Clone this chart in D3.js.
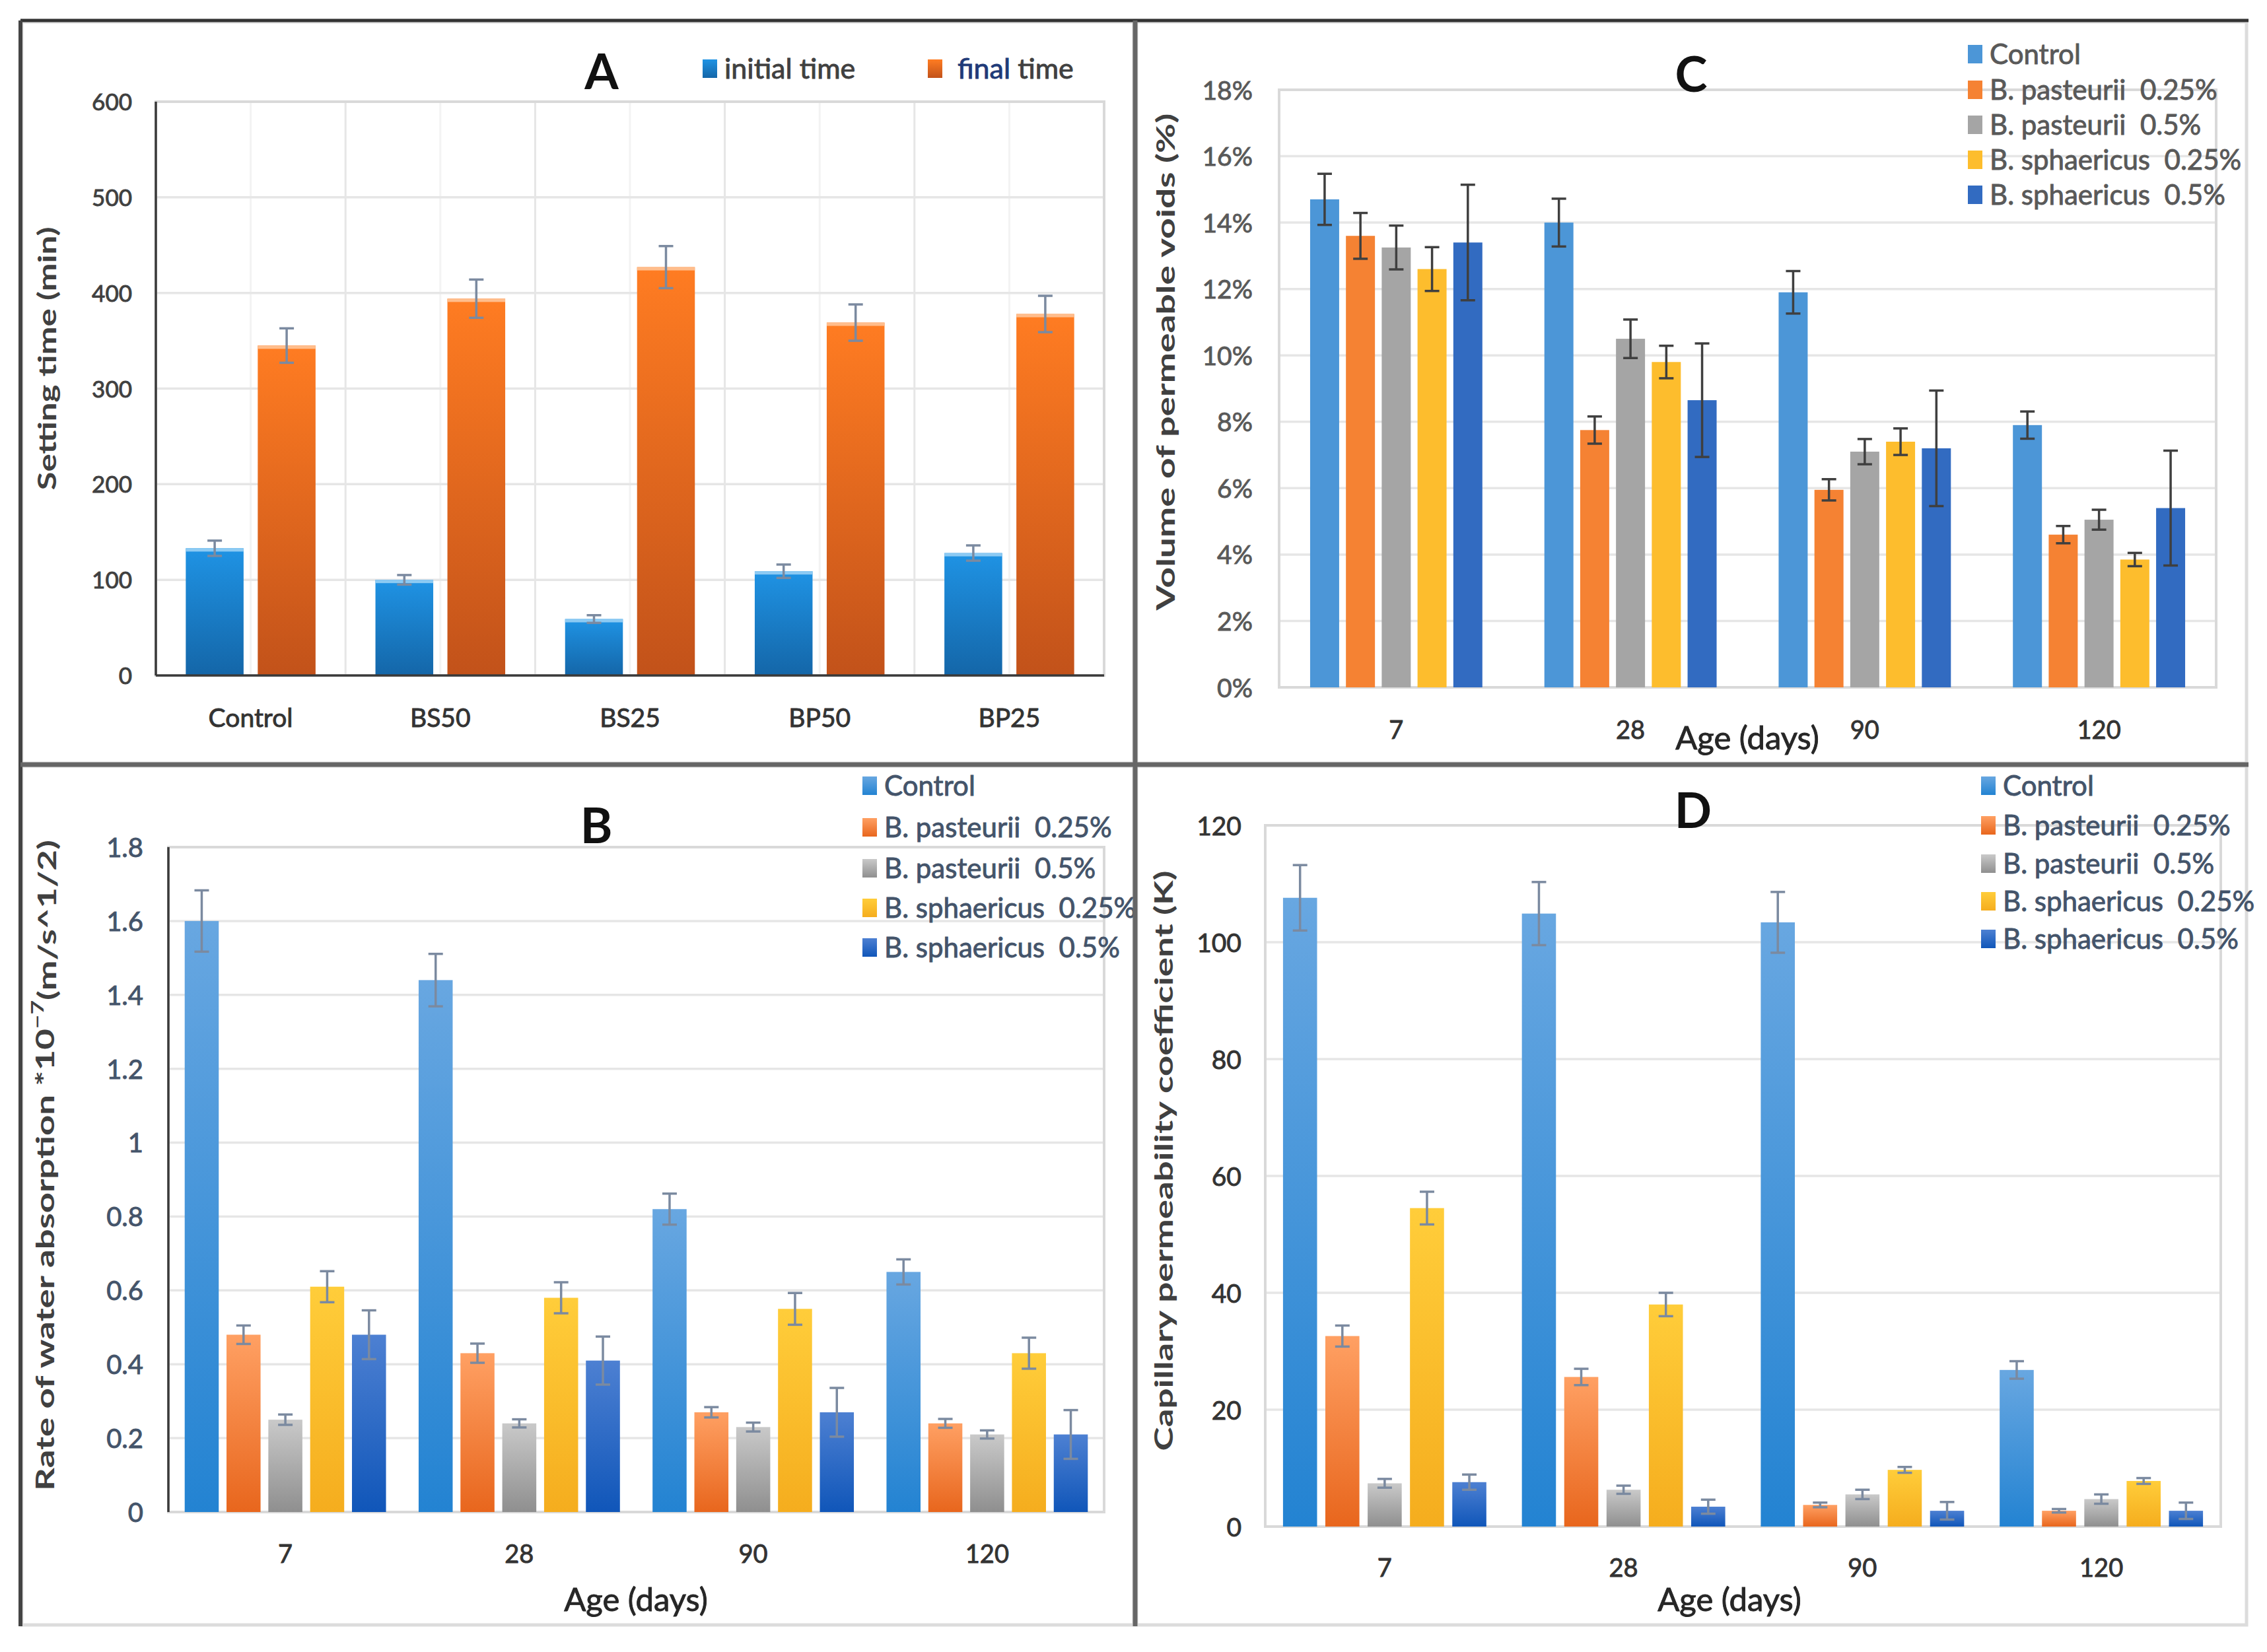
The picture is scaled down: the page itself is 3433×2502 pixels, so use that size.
<!DOCTYPE html>
<html>
<head>
<meta charset="utf-8">
<script src="https://cdn.jsdelivr.net/npm/d3@7"></script>
<style>
body{margin:0;background:#fff}
text{font-family:Lato,"Liberation Sans",sans-serif;white-space:pre}
.heavy{stroke-width:0.9px;paint-order:stroke}
</style>
</head>
<body>
<svg id="fig" width="3433" height="2502"></svg>
<script>
// ---------- data ----------
// A: setting time
var setCats = ["Control","BS50","BS25","BP50","BP25"];
var setSeries = ["initial time","final time"];
var setInitial = [133,100,59,109,128];
var setInitialErr = [8,5,4,7,8];
var setFinal = [345,394,427,369,378];
var setFinalErr = [18,20,22,19,19];
var setTicks = [0,100,200,300,400,500,600];

// B, C, D share ages and mixes
var ages = ["7","28","90","120"];
var mixes = ["Control","B. pasteurii  0.25%","B. pasteurii  0.5%","B. sphaericus  0.25%","B. sphaericus  0.5%"];

// B: rate of water absorption (one row per mix, one value per age)
var rateVals = [
	[1.60,1.44,0.82,0.65],
	[0.48,0.43,0.27,0.24],
	[0.25,0.24,0.23,0.21],
	[0.61,0.58,0.55,0.43],
	[0.48,0.41,0.27,0.21]];
var rateErr = [
	[0.083,0.071,0.042,0.034],
	[0.025,0.026,0.014,0.012],
	[0.014,0.011,0.012,0.011],
	[0.042,0.042,0.043,0.042],
	[0.066,0.065,0.066,0.066]];
var rateTicks = [0,0.2,0.4,0.6,0.8,1,1.2,1.4,1.6,1.8];
var rateTickLabels = ["0","0.2","0.4","0.6","0.8","1","1.2","1.4","1.6","1.8"];

// C: volume of permeable voids (%)
var voidVals = [
	[14.7,14.0,11.9,7.9],
	[13.6,7.75,5.95,4.6],
	[13.25,10.5,7.1,5.05],
	[12.6,9.8,7.4,3.85],
	[13.4,8.65,7.2,5.4]];
var voidErr = [
	[0.77,0.72,0.64,0.41],
	[0.69,0.41,0.32,0.26],
	[0.66,0.58,0.38,0.30],
	[0.66,0.49,0.40,0.20],
	[1.74,1.71,1.74,1.73]];
var voidTicks = [0,2,4,6,8,10,12,14,16,18];

// D: capillary permeability coefficient
var capVals = [
	[107.6,104.9,103.4,26.8],
	[32.6,25.6,3.7,2.7],
	[7.4,6.3,5.5,4.7],
	[54.5,38.0,9.7,7.8],
	[7.6,3.4,2.7,2.7]];
var capErr = [
	[5.6,5.4,5.2,1.5],
	[1.8,1.4,0.4,0.3],
	[0.75,0.7,0.8,0.8],
	[2.8,2.0,0.5,0.5],
	[1.3,1.2,1.5,1.4]];
var capTicks = [0,20,40,60,80,100,120];

// ---------- drawing ----------
var svg = d3.select("#fig");
var defs = svg.append("defs");

function grad(id, top, bottom){
	var lg = defs.append("linearGradient").attr("id",id)
		.attr("x1",0).attr("y1",0).attr("x2",0).attr("y2",1);
	lg.append("stop").attr("offset","0%").attr("stop-color",top);
	lg.append("stop").attr("offset","100%").attr("stop-color",bottom);
	return "url(#"+id+")";
}

var fillsA = [grad("gA0","#1f93e4","#1466a8"), grad("gA1","#ff7c22","#c2521a")];
var fillsBD = [
	grad("g0","#68a7e1","#2383d2"),
	grad("g1","#ffa063","#e8661d"),
	grad("g2","#c9c9c9","#8f8f8f"),
	grad("g3","#ffcd3a","#f5ad1e"),
	grad("g4","#4d80d2","#1056b9")];
var fillsC = ["#4c96d7","#f58233","#a5a5a5","#fdbd2d","#326bc1"];

// light chart-area borders of the four panels
[[33,33,1684,1123],[1721,33,1681,1123],[33,1160,1684,1301],[1721,1160,1681,1301]].forEach(function(r){
	svg.append("rect").attr("x",r[0]).attr("y",r[1]).attr("width",r[2]).attr("height",r[3])
		.attr("fill","none").attr("stroke","#dcdcdc").attr("stroke-width",5);
});

function heavy(sel, color){
	return sel.attr("fill",color).attr("stroke",color).attr("class","heavy");
}

function panel(o){
	var g = svg.append("g");
	var x = d3.scaleBand().domain(o.cats).range([o.left,o.right]);
	var xs = d3.scaleBand().domain(d3.range(o.vals.length)).range([0,x.bandwidth()])
		.paddingInner(o.pIn).paddingOuter(o.pOut);
	var y = d3.scaleLinear().domain([0,o.yMax]).range([o.bottom,o.top]);

	// vertical grid (panel A only)
	if (o.vgrid){
		var vx = [];
		o.cats.forEach(function(c,i){ vx.push(x(c)); vx.push(x(c)+x.bandwidth()/2); });
		g.selectAll(".vg").data(vx).join("line")
			.attr("x1",function(d){return d}).attr("x2",function(d){return d})
			.attr("y1",o.top).attr("y2",o.bottom)
			.attr("stroke",function(d,i){return i%2?"#f3f3f3":"#e6e6e6"}).attr("stroke-width",3);
	}
	// horizontal grid
	g.selectAll(".hg").data(o.ticks).join("line")
		.attr("x1",o.left).attr("x2",o.right)
		.attr("y1",function(d){return y(d)}).attr("y2",function(d){return y(d)})
		.attr("stroke","#e6e6e6").attr("stroke-width",3.5);
	// plot frame
	g.append("rect").attr("x",o.left).attr("y",o.top).attr("width",o.right-o.left).attr("height",o.bottom-o.top)
		.attr("fill","none").attr("stroke","#d9d9d9").attr("stroke-width",4);

	// bars
	var cells = [];
	o.vals.forEach(function(row,s){
		row.forEach(function(v,c){ cells.push({s:s,c:o.cats[c],v:v,e:o.errs[s][c]}); });
	});
	g.selectAll(".bar").data(cells).join("rect")
		.attr("x",function(d){return x(d.c)+xs(d.s)})
		.attr("width",xs.bandwidth())
		.attr("y",function(d){return y(d.v)})
		.attr("height",function(d){return y(0)-y(d.v)})
		.attr("fill",function(d){return o.fills[d.s]});
	if (o.topEdge){
		g.selectAll(".edge").data(cells).join("rect")
			.attr("x",function(d){return x(d.c)+xs(d.s)})
			.attr("width",xs.bandwidth())
			.attr("y",function(d){return y(d.v)})
			.attr("height",5)
			.attr("fill",function(d){return o.topEdge[d.s]});
	}

	// error bars
	var cap = 11;
	var eb = g.selectAll(".err").data(cells).join("g")
		.attr("stroke",o.errColor).attr("stroke-width",3.5);
	eb.append("line")
		.attr("x1",function(d){return x(d.c)+xs(d.s)+xs.bandwidth()/2})
		.attr("x2",function(d){return x(d.c)+xs(d.s)+xs.bandwidth()/2})
		.attr("y1",function(d){return y(d.v+d.e)}).attr("y2",function(d){return y(d.v-d.e)});
	[1,-1].forEach(function(sg){
		eb.append("line")
			.attr("x1",function(d){return x(d.c)+xs(d.s)+xs.bandwidth()/2-cap})
			.attr("x2",function(d){return x(d.c)+xs(d.s)+xs.bandwidth()/2+cap})
			.attr("y1",function(d){return y(d.v+sg*d.e)}).attr("y2",function(d){return y(d.v+sg*d.e)});
	});

	// dark axis lines
	if (o.darkLeft){
		g.append("line").attr("x1",o.left).attr("x2",o.left).attr("y1",o.top).attr("y2",o.bottom)
			.attr("stroke","#3a3a3a").attr("stroke-width",3.5);
	}
	if (o.darkBottom){
		g.append("line").attr("x1",o.left).attr("x2",o.right).attr("y1",o.bottom).attr("y2",o.bottom)
			.attr("stroke","#3a3a3a").attr("stroke-width",3.5);
	}

	// y tick labels
	var ya = g.append("g").attr("transform","translate("+o.tickX+",0)")
		.call(d3.axisLeft(y).tickValues(o.ticks).tickFormat(function(d,i){return o.tickLabels[i]}).tickSize(0).tickPadding(0));
	ya.select(".domain").remove();
	heavy(ya.selectAll("text"), o.tickColor).attr("font-family","Lato").attr("font-size",o.tickSize).attr("dy","0.36em");

	// category labels
	var xa = g.append("g").attr("transform","translate(0,"+o.catY+")")
		.call(d3.axisBottom(x).tickSize(0).tickPadding(0));
	xa.select(".domain").remove();
	heavy(xa.selectAll("text"), "#333").attr("y",0).attr("dy","0.36em")
		.attr("font-family","Lato").attr("font-size",o.catSize);

	// panel letter
	g.append("text").attr("x",o.letterX).attr("y",o.letterY).attr("dy","0.36em")
		.attr("text-anchor","middle").attr("font-size",74).attr("font-weight","bold").attr("fill","#111")
		.text(o.letter);

	// x title
	if (o.ageX){
		heavy(g.append("text"), "#262626").attr("x",o.ageX).attr("y",o.ageY).attr("dy","0.36em")
			.attr("text-anchor","middle").attr("font-size",49).text("Age (days)");
	}

	// y title
	var yt = g.append("text")
		.attr("transform","translate("+o.yTitleX+","+o.yTitleY+") rotate(-90)")
		.attr("text-anchor","middle").attr("dy","0.36em")
		.attr("font-family","DejaVu Sans").attr("font-weight","bold").attr("font-size",38)
		.attr("fill","#404040")
		.attr("textLength",o.yTitleLen).attr("lengthAdjust","spacingAndGlyphs");
	o.yTitle(yt);

	// legend
	if (o.legX){
		var lg = g.selectAll(".leg").data(o.legNames).join("g")
			.attr("transform",function(d,i){return "translate("+o.legX+","+o.legY[i]+")"});
		lg.append("rect").attr("x",0).attr("y",-14).attr("width",22).attr("height",28)
			.attr("fill",function(d,i){return o.fills[i]});
		heavy(lg.append("text"), o.legColor).attr("x",33).attr("dy","0.36em").attr("font-size",42)
			.text(function(d){return d});
	}
	return g;
}

// Panel A
var panelA = panel({
	cats:setCats, vals:[setInitial,setFinal], errs:[setInitialErr,setFinalErr],
	left:236, right:1672, top:154, bottom:1023, yMax:600,
	ticks:setTicks, tickLabels:setTicks.map(String), tickX:200, tickSize:35, tickColor:"#404040",
	catY:1087, catSize:39, pIn:0.197, pOut:0.416,
	fills:fillsA, topEdge:["#8ccaf3","#ffbd8c"], errColor:"#7b8aa0",
	vgrid:true, darkLeft:true, darkBottom:true,
	letter:"A", letterX:911, letterY:108,
	yTitleX:71, yTitleY:543, yTitleLen:399,
	yTitle:function(t){t.text("Setting time (min)")}
});
// legend of A
[[1064,fillsA[0]],[1405,fillsA[1]]].forEach(function(p){
	panelA.append("rect").attr("x",p[0]).attr("y",90).attr("width",22).attr("height",28).attr("fill",p[1]);
});
heavy(panelA.append("text"), "#404040").attr("x",1097).attr("y",104).attr("dy","0.36em").attr("font-size",43)
	.text(setSeries[0]);
var finTxt = panelA.append("text").attr("x",1450).attr("y",104).attr("dy","0.36em").attr("font-size",43);
heavy(finTxt.append("tspan"), "#1f3a78").text(setSeries[1].split(" ")[0]);
heavy(finTxt.append("tspan"), "#404040").text(" "+setSeries[1].split(" ")[1]);

// Panel B
panel({
	cats:ages, vals:rateVals, errs:rateErr,
	left:255, right:1672, top:1283, bottom:2290, yMax:1.8,
	ticks:rateTicks, tickLabels:rateTickLabels, tickX:217, tickSize:40, tickColor:"#44546a",
	catY:2353, catSize:38, pIn:0.186, pOut:0.39,
	fills:fillsBD, errColor:"#7b8aa0", darkLeft:true,
	letter:"B", letterX:903, letterY:1250,
	ageX:963, ageY:2422,
	yTitleX:68, yTitleY:1765, yTitleLen:986,
	yTitle:function(t){
		t.append("tspan").text("Rate of water absorption *10");
		t.append("tspan").attr("font-size",26).attr("dy","-0.6em").text("\u22127");
		t.append("tspan").attr("dy","0.5em").text("(m/s^1/2)");
	},
	legX:1306, legY:[1190,1253,1315,1375,1435], legNames:mixes, legColor:"#44546a"
});

// Panel C
panel({
	cats:ages, vals:voidVals, errs:voidErr,
	left:1937, right:3356, top:136, bottom:1041, yMax:18,
	ticks:voidTicks, tickLabels:voidTicks.map(function(d){return d+"%"}), tickX:1897, tickSize:39, tickColor:"#595959",
	catY:1105, catSize:38, pIn:0.189, pOut:0.866,
	fills:fillsC, errColor:"#3f3f3f",
	letter:"C", letterX:2561, letterY:112,
	ageX:2646, ageY:1117,
	yTitleX:1765, yTitleY:548, yTitleLen:753,
	yTitle:function(t){t.text("Volume of permeable voids (%)")},
	legX:2980, legY:[82,136,189,242,295], legNames:mixes, legColor:"#595959"
});

// Panel D
panel({
	cats:ages, vals:capVals, errs:capErr,
	left:1916, right:3363, top:1250, bottom:2312, yMax:120,
	ticks:capTicks, tickLabels:capTicks.map(String), tickX:1880, tickSize:39, tickColor:"#333",
	catY:2374, catSize:38, pIn:0.195, pOut:0.42,
	fills:fillsBD, errColor:"#7b8aa0",
	letter:"D", letterX:2564, letterY:1227,
	ageX:2619, ageY:2422,
	yTitleX:1762, yTitleY:1758, yTitleLen:879,
	yTitle:function(t){t.text("Capillary permeability coefficient (K)")},
	legX:3000, legY:[1190,1250,1308,1365,1422], legNames:mixes, legColor:"#44546a"
});

// dark outer frame and dividers
var frame = [[31,31,3405,31,"#333",5],[31,31,31,2463,"#444",6],
	[1719,31,1719,2463,"#666",7],[31,1158,3405,1158,"#666",7]];
frame.forEach(function(f){
	svg.append("line").attr("x1",f[0]).attr("y1",f[1]).attr("x2",f[2]).attr("y2",f[3])
		.attr("stroke",f[4]).attr("stroke-width",f[5]);
});
</script>
</body>
</html>
